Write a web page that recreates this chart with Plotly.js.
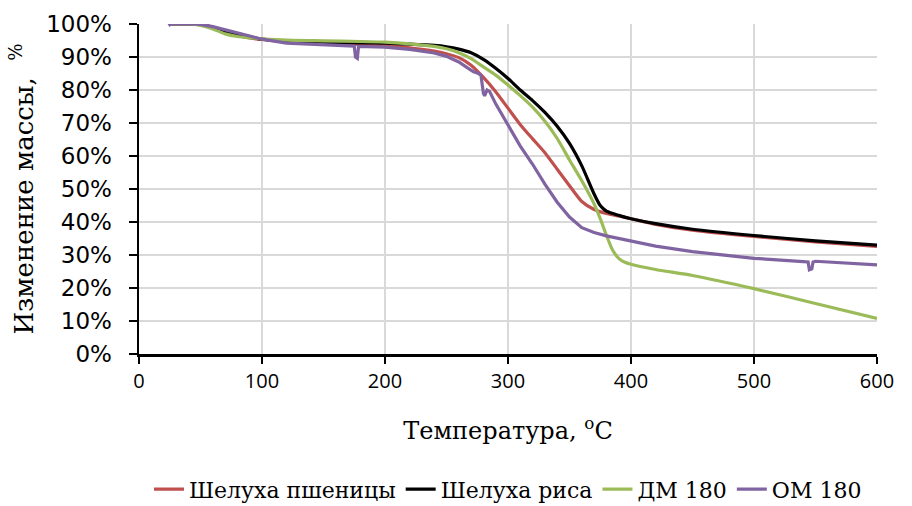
<!DOCTYPE html>
<html>
<head>
<meta charset="utf-8">
<script src="https://cdn.plot.ly/plotly-3.0.1.min.js"></script>
<style>html,body{margin:0;padding:0;background:#fff}#chart{width:912px;height:506px}</style>
</head>
<body>
<div id="chart"></div>
<script>
// Temperatures (°C) and mass change (%)
const wheatT = [25,40,50,60,70,80,90,100,120,150,180,200,220,240,250,260,270,280,290,300,310,320,330,340,350,360,370,380,390,400,420,450,500,550,600];
const wheatW = [100,100,99.8,99,97.8,96.6,95.8,95.3,94.6,94.2,93.8,93.5,92.8,91.8,91,89.8,87.5,83.8,79.5,74.5,69.5,65.2,61,56,51,46.2,43.8,42.6,41.8,41,39.3,37.5,35.6,34,32.6];

const riceT = [25,40,50,60,70,80,90,100,120,150,180,200,220,240,250,260,270,280,290,300,310,320,330,340,350,360,370,375,380,390,400,420,450,500,550,600];
const riceW = [100,100,99.8,99,97.8,96.8,96,95.4,94.8,94.4,94.3,94.2,93.9,93.5,93.1,92.4,91.3,89.3,86.6,83.5,80,76.8,73.2,69,63.8,57,48.5,45,43.3,42,41,39.5,37.8,35.9,34.3,33];

const dmT = [25,40,50,60,70,80,90,100,120,150,180,200,220,240,250,260,270,280,290,300,310,320,330,340,350,360,370,375,380,385,390,395,400,420,450,500,550,600];
const dmW = [100,100,99.6,98.5,97,96.2,95.8,95.5,95.1,94.9,94.7,94.5,94,93.2,92.5,91.3,89.5,87,84.5,81.5,78.3,74.8,70.5,65.3,58.8,52.5,45.5,41,36,31.5,29,27.8,27.2,25.6,23.8,19.8,15.3,10.8];

const omT = [24,26,40,50,60,70,80,90,100,120,150,175,176,177.5,178.5,200,220,240,250,260,268,272,275,278,280,281,283,285,290,300,310,320,330,340,350,360,370,380,390,400,420,450,500,540,544,545,547,548,550,600];
const omW = [99.5,100,100,99.9,99.2,98.2,97.2,96.2,95.4,94.2,93.6,93.3,90,89.6,93.2,93,92.3,91.2,90.2,88.5,86.5,85.5,85.2,84.5,79,78.2,80,79.6,75.8,69.5,63,57.5,51.5,46,41.5,38.3,36.8,35.8,35,34.2,32.7,31,29,28,27.9,25.5,25.8,27.9,28.1,27];

const names = ['Шелуха пшеницы','Шелуха риса','ДМ 180','ОМ 180'];
const colors = ['#C0504D','#000000','#9BBB59','#8064A2'];
const xTicks = [0,100,200,300,400,500,600];
const yTicks = [0,0.1,0.2,0.3,0.4,0.5,0.6,0.7,0.8,0.9,1];

const serif = 'DejaVu Serif';
const series = [[wheatT,wheatW],[riceT,riceW],[dmT,dmW],[omT,omW]];
const traces = series.map((s,i)=>({
  x: s[0], y: s[1].map(v=>v/100), name: names[i], type:'scatter', mode:'lines',
  line:{color:colors[i], width:3.2, shape: i===3 ? 'linear' : 'spline', smoothing:0.6},
  hoverinfo:'skip'
}));

const layout = {
  width:912, height:506,
  font:{family:serif, color:'#000'},
  margin:{l:139, r:35, t:24, b:152, autoexpand:false},
  paper_bgcolor:'#fff', plot_bgcolor:'#fff',
  showlegend:true,
  legend:{orientation:'h', x:0.5, xanchor:'center', y:-0.41, yanchor:'middle',
    font:{family:serif, size:22, color:'#000'}, itemwidth:30, tracegroupgap:0},
  xaxis:{range:[0,600], tickvals:xTicks, ticktext:xTicks.map(String), automargin:false,
    showline:true, linecolor:'#000', linewidth:2.5, ticks:'outside', ticklen:7, tickwidth:2.5, tickcolor:'#000',
    showgrid:true, gridcolor:'#D9D9D9', gridwidth:2, zeroline:false,
    tickfont:{family:'Open Sans', size:20, color:'#000'},
    title:{text:'Температура, <sup>o</sup>C', font:{family:serif, size:24, color:'#000'}, standoff:30}},
  yaxis:{range:[0,1], tickvals:yTicks, ticktext:yTicks.map(v=>Math.round(v*100)+'%'), automargin:false,
    showline:true, linecolor:'#000', linewidth:2.5, ticks:'outside', ticklen:8, tickwidth:2.5, tickcolor:'#000',
    showgrid:true, gridcolor:'#D9D9D9', gridwidth:2, zeroline:false, ticklabelstandoff:12,
    tickfont:{family:'DejaVu Sans', size:23, color:'#000'},
    title:{text:'Изменение массы,  <sup>%</sup>', font:{family:serif, size:26, color:'#000'}, standoff:5}}
};

Plotly.newPlot('chart', traces, layout, {displayModeBar:false, staticPlot:true});
</script>
</body>
</html>
